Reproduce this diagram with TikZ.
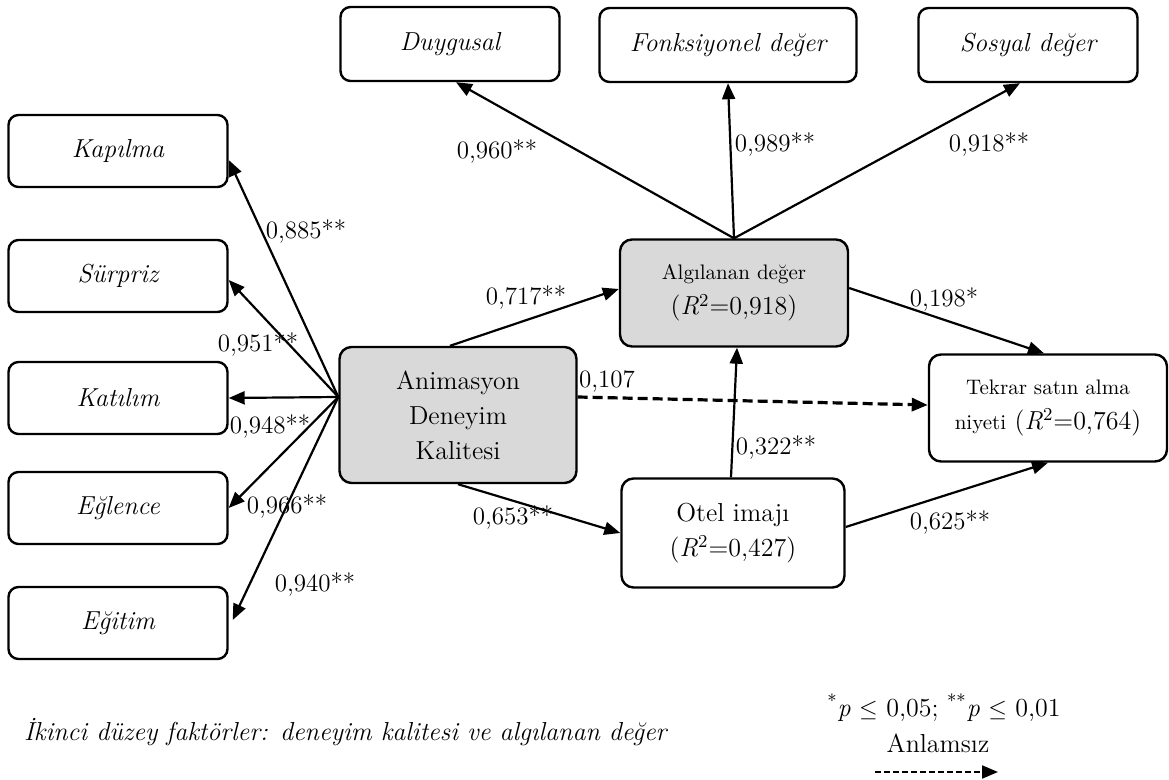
\documentclass[tikz,border=0pt]{standalone}
\usepackage{fontspec}
\usetikzlibrary{arrows.meta}

\begin{document}
\begin{tikzpicture}[x=0.5pt,y=-0.5pt,
  main/.style={draw,rounded corners=5pt,line width=1.2pt,minimum width=109.5pt,minimum height=36pt,inner sep=2pt,font=\fontsize{13}{17}\selectfont\itshape},
  latent/.style={draw,rounded corners=6pt,line width=1.2pt,align=center,inner sep=2pt,font=\fontsize{13}{17.5}\selectfont},
  shaded/.style={fill=black!15},
  path/.style={-{Triangle[length=8pt,width=6.5pt]},line width=1.1pt},
  nonsig/.style={path,line width=1.6pt,dash pattern=on 5pt off 2.5pt},
  coef/.style={inner sep=0pt,font=\fontsize{12.5}{15}\selectfont}]
    \useasboundingbox (0,0) rectangle (1169,780);
    \node[main] (ka) at (118,151) {Kapılma};
    \node[main] (su) at (118,276) {Sürpriz};
    \node[main] (kt) at (118,398) {Katılım};
    \node[main] (eg) at (118,508) {Eğlence};
    \node[main] (et) at (118,623) {Eğitim};
    \node[main,minimum height=37pt] (du) at (450,44) {Duygusal};
    \node[main,minimum height=37pt,minimum width=128.5pt] (fo) at (728,45) {Fonksiyonel değer};
    \node[main,minimum height=37pt] (so) at (1028,45) {Sosyal değer};
    \node[latent,shaded,minimum width=118.5pt,minimum height=68pt] (an) at (458,415) {Animasyon\\Deneyim\\Kalitesi};
    \node[latent,shaded,minimum width=114pt,minimum height=53.5pt] (al) at (734,293) {{\fontsize{10.5}{13}\selectfont Algılanan değer}\\(\textit{R}\textsuperscript{2}=0,918)};
    \node[latent,minimum width=111.5pt,minimum height=54.5pt] (ot) at (733,533) {Otel imajı\\(\textit{R}\textsuperscript{2}=0,427)};
    \node[latent,minimum width=119pt,minimum height=53.5pt] (te) at (1048,408) {{\fontsize{10.5}{13}\selectfont Tekrar satın alma}\\{\fontsize{10.5}{13}\selectfont niyeti} (\textit{R}\textsuperscript{2}=0,764)};
    \coordinate (s) at ([yshift=9pt]an.west);
    \draw[path] (s) -- ([yshift=-4.5pt]ka.east);
    \draw[path] (s) -- ([yshift=-2pt]su.east);
    \draw[path] (s) -- (kt.east);
    \draw[path] (s) -- (eg.east);
    \draw[path] (s) -- ([xshift=2pt,yshift=1.5pt]et.east);
    \draw[path] (al.north) -- ([xshift=3pt]du.south);
    \draw[path] (al.north) -- (fo.south);
    \draw[path] (al.north) -- ([xshift=-4pt]so.south);
    \draw[path] ([xshift=-4pt]an.north) -- ([yshift=2pt]al.west);
    \draw[path] ([yshift=2.5pt]al.east) -- ([xshift=-2pt]te.north);
    \draw[nonsig] ([yshift=9pt]an.east) -- ([yshift=1.5pt]te.west);
    \draw[path] (an.south) -- (ot.west);
    \draw[path] ([xshift=-1pt]ot.north) -- ([xshift=1.5pt]al.south);
    \draw[path] ([yshift=3pt]ot.east) -- (te.south);
    \node[coef] (c1) at (306,232) {0,885**};
    \node[coef] (c2) at (258,345) {0,951**};
    \node[coef] (c3) at (270,427) {0,948**};
    \node[coef] (c4) at (287,507) {0,966**};
    \node[coef] (c5) at (315,585) {0,940**};
    \node[coef] (c6) at (497,152) {0,960**};
    \node[coef] (c7) at (775,145) {0,989**};
    \node[coef] (c8) at (989,145) {0,918**};
    \node[coef] (c9) at (526,298) {0,717**};
    \node[coef] (c10) at (944,300) {0,198*};
    \node[coef] (c11) at (607,381) {0,107};
    \node[coef] (c12) at (513,518) {0,653**};
    \node[coef] (c13) at (776,448) {0,322**};
    \node[coef] (c14) at (950,523) {0,625**};
    \node[anchor=west,font=\fontsize{13}{16}\selectfont\itshape] (fn) at (17,732) {İkinci düzey faktörler: deneyim kalitesi ve algılanan değer};
    \node[font=\fontsize{13}{16}\selectfont] (lg) at (944,708) {\textsuperscript{*}\textit{p} $\le$ 0,05; \textsuperscript{**}\textit{p} $\le$ 0,01};
    \node[font=\fontsize{13}{16}\selectfont] (ns) at (938,743) {Anlamsız};
    \coordinate (d1) at (875,772);
    \coordinate (d2) at (998,772);
    \draw[path,dash pattern=on 3pt off 1.5pt] (d1) -- (d2);
\end{tikzpicture}
\end{document}
